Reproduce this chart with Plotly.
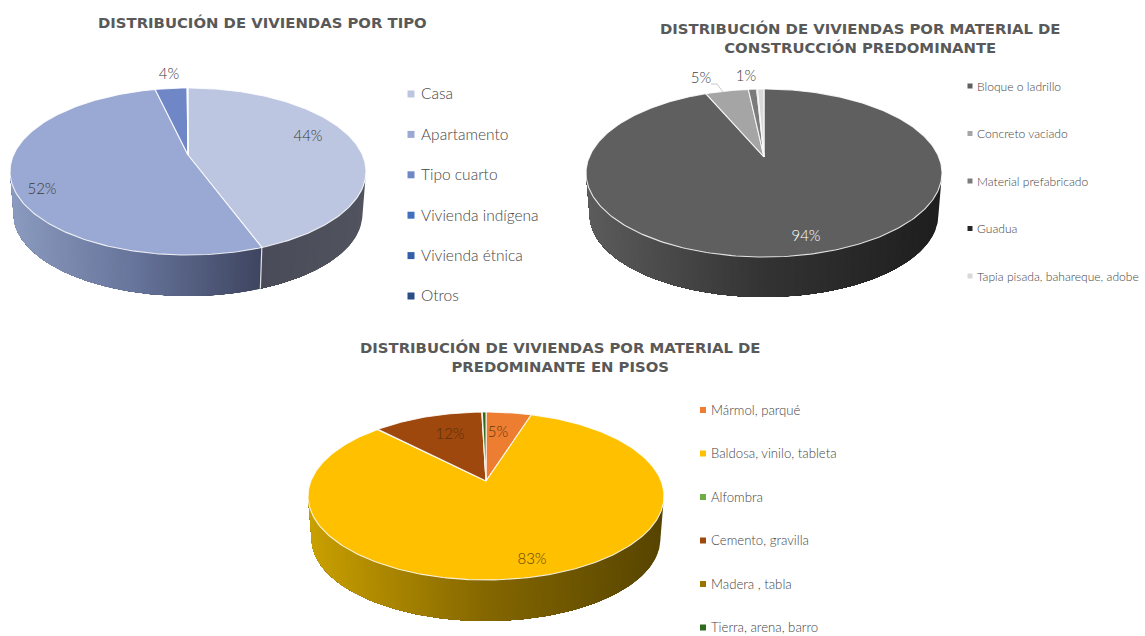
import math
import plotly.graph_objects as go

# ---------- data ----------
tipo_labels = ["Casa", "Apartamento", "Tipo cuarto", "Vivienda indígena", "Vivienda étnica", "Otros"]
tipo_values = [44.4, 52.0, 3.5, 0.05, 0.03, 0.02]
tipo_colors = ["#bcc6e1", "#9aa9d3", "#6f87c7", "#3f6fbd", "#335fa8", "#2b4c86"]
tipo_text = ["44%", "52%", "4%"]

mat_labels = ["Bloque o ladrillo", "Concreto vaciado", "Material prefabricado", "Guadua", "Tapia pisada, bahareque, adobe"]
mat_values = [93.6, 4.7, 0.9, 0.1, 0.7]
mat_colors = ["#5f5f5f", "#a5a5a5", "#7b7b7b", "#262626", "#d9d9d9"]
mat_text = ["94%", "5%", "1%"]

piso_labels = ["Mármol, parqué", "Baldosa, vinilo, tableta", "Alfombra", "Cemento, gravilla", "Madera , tabla", "Tierra, arena, barro"]
piso_values = [4.9, 82.8, 0.05, 11.8, 0.05, 0.4]
piso_colors = ["#ed7d31", "#ffc000", "#70ad47", "#9e480e", "#997300", "#2f6b1f"]
piso_text = ["5%", "83%", "12%"]

titles = ["DISTRIBUCIÓN DE VIVIENDAS POR TIPO",
          "DISTRIBUCIÓN DE VIVIENDAS POR MATERIAL DE<br>CONSTRUCCIÓN PREDOMINANTE",
          "DISTRIBUCIÓN DE VIVIENDAS POR MATERIAL DE<br>PREDOMINANTE EN PISOS"]

# ---------- style / layout ----------
W, H = 1145, 636
BODY = "Lato"
HEAD = "DejaVu Sans"
GREY = "#595959"
LEGEND_TEXT = "#454545"
TEXT_SHIFT = 1.5

charts = [
    dict(values=tipo_values, colors=tipo_colors, labels=tipo_labels, cx=188, apex=155, top=88, bottom=255, rx=178, floor=296,
         ramps={0: ["#494c58", "#51545f"], 1: ["#8b9abf", "#66739a", "#3e4560"]},
         legend=dict(mx=411, tx=421, y0=94, dy=40.4, size=15.5, ms=7, color=LEGEND_TEXT),
         text=[(tipo_text[0], 308, 136, "#3a3a3a"), (tipo_text[1], 42, 189, "#3a3a3a"), (tipo_text[2], 169, 74, "#3a3a3a")],
         tsize=15, title=(262, 23)),
    dict(values=mat_values, colors=mat_colors, labels=mat_labels, cx=764, apex=157, top=89, bottom=257, rx=178, floor=297,
         ramps={0: ["#5c5c5c", "#333333", "#1e1e1e"]},
         legend=dict(mx=970, tx=977, y0=86, dy=47.5, size=12.1, ms=5, color=LEGEND_TEXT),
         text=[(mat_text[0], 806, 236, "#ffffff"), (mat_text[1], 701, 78, "#404040"), (mat_text[2], 746, 76, "#404040")],
         tsize=15, title=(860, 38)),
    dict(values=piso_values, colors=piso_colors, labels=piso_labels, cx=486, apex=481, top=412, bottom=580, rx=178, floor=621,
         ramps={1: ["#c9a000", "#846700", "#574400"]},
         legend=dict(mx=703, tx=711, y0=410, dy=43.5, size=13.2, ms=6, color=LEGEND_TEXT),
         text=[(piso_text[0], 498, 432, "#5e3510"), (piso_text[1], 532, 559, "#5e4408"), (piso_text[2], 450, 434, "#5a2e0c")],
         tsize=15, title=(560, 357)),
]


def hex2rgb(c):
    return [int(c[i:i + 2], 16) for i in (1, 3, 5)]


def ramp(stops, f):
    f = min(max(f, 0), 1) * (len(stops) - 1)
    i = min(int(f), len(stops) - 2)
    a, b = hex2rgb(stops[i]), hex2rgb(stops[i + 1])
    t = f - i
    return "rgb(%d,%d,%d)" % tuple(round(a[j] + (b[j] - a[j]) * t) for j in range(3))


fig = go.Figure()


def poly(xs, ys, fill, line=None, lw=0):
    fig.add_trace(go.Scatter(x=xs, y=ys, mode="lines", fill="toself", fillcolor=fill,
                             line=dict(color=line or fill, width=lw), hoverinfo="skip", showlegend=False))


for c in charts:
    up, down = c["apex"] - c["top"], c["bottom"] - c["apex"]
    k = (down - up) / (down + up)
    A = down * (1 - k)
    B = c["rx"] * math.sqrt(1 - k * k)
    cy = c["apex"] + A * k / (1 - k * k)
    s = 0.98
    dy = c["floor"] - (cy + (c["bottom"] - cy) * s)

    def top(theta):
        u, v = math.sin(theta), -math.cos(theta)
        w = 1 - k * v
        return c["cx"] + B * u / w, c["apex"] + A * v / w

    def low(theta):
        x, y = top(theta)
        return c["cx"] + (x - c["cx"]) * s, cy + (y - cy) * s + dy

    total = sum(c["values"])
    edges = [0.0]
    for v in c["values"]:
        edges.append(edges[-1] + v / total * 2 * math.pi)
    vis0, vis1 = math.acos(-k), 2 * math.pi - math.acos(-k)

    # side wall: painted from the right, each piece reaching the slice's far end so no seams show
    for i in c["ramps"]:
        a0, a1 = max(edges[i], vis0), min(edges[i + 1], vis1)
        if a1 <= a0:
            continue
        x_hi, x_lo = top(a0)[0], top(a1)[0]
        n = max(2, int((x_hi - x_lo) / 3))
        # equal steps in x, so each band has the same width on screen
        bands = []
        fine = [a0 + (a1 - a0) * q / 600 for q in range(601)]
        for j in range(n):
            target = x_hi - (x_hi - x_lo) * j / n
            bands.append(min(fine, key=lambda t: abs(top(t)[0] - target)))
        for j in range(n):
            col = ramp(c["ramps"][i], 1 - (j + 0.5) / n)
            arc = [t for t in fine if t >= bands[j]]
            arc = arc[::4] + [arc[-1]]
            upper = [top(t) for t in arc]
            lower = [low(t) for t in reversed(arc)]
            p = upper + lower + [upper[0]]
            poly([q[0] for q in p], [q[1] for q in p], col)
        # seam on the wall between slices
        if vis0 < edges[i] < vis1:
            p, q = top(edges[i]), low(edges[i])
            fig.add_trace(go.Scatter(x=[p[0], q[0]], y=[p[1], q[1]], mode="lines",
                                     line=dict(color="rgba(255,255,255,0.85)", width=1.2),
                                     hoverinfo="skip", showlegend=False))

    # top surface
    for i, col in enumerate(c["colors"]):
        a0, a1 = edges[i], edges[i + 1]
        n = max(2, int((a1 - a0) / math.radians(1)))
        pts = [top(a0 + (a1 - a0) * j / n) for j in range(n + 1)]
        xs = [c["cx"]] + [q[0] for q in pts] + [c["cx"]]
        ys = [c["apex"]] + [q[1] for q in pts] + [c["apex"]]
        poly(xs, ys, col, "rgba(255,255,255,0.85)", 1.1)

    # data labels
    fig.add_trace(go.Scatter(x=[t[1] for t in c["text"]], y=[t[2] + TEXT_SHIFT for t in c["text"]], mode="text",
                             text=[t[0] for t in c["text"]],
                             textfont=dict(family=BODY, size=c["tsize"], color=[t[3] for t in c["text"]], weight=300),
                             textposition="middle center", hoverinfo="skip", showlegend=False))

    # legend
    lg = c["legend"]
    ys = [lg["y0"] + lg["dy"] * i for i in range(len(c["labels"]))]
    fig.add_trace(go.Scatter(x=[lg["mx"]] * len(ys), y=ys, mode="markers",
                             marker=dict(symbol="square", size=lg["ms"], color=c["colors"]),
                             hoverinfo="skip", showlegend=False))
    fig.add_trace(go.Scatter(x=[lg["tx"]] * len(ys), y=[v + TEXT_SHIFT for v in ys], mode="text", text=c["labels"],
                             textposition="middle right",
                             textfont=dict(family=BODY, size=lg["size"], color=lg["color"], weight=300),
                             hoverinfo="skip", showlegend=False))

# leader line of the 5 % label
fig.add_trace(go.Scatter(x=[711, 717, 723], y=[84, 84, 92], mode="lines",
                         line=dict(color="#c8c8c8", width=1), hoverinfo="skip", showlegend=False))

for c, t in zip(charts, titles):
    fig.add_annotation(x=c["title"][0], y=c["title"][1], xref="x", yref="y", text=t, showarrow=False,
                       font=dict(family=HEAD, size=14.85, color=GREY, weight="bold"), align="center", yanchor="middle")

fig.update_layout(width=W, height=H, margin=dict(l=0, r=0, t=0, b=0), paper_bgcolor="white", plot_bgcolor="white",
                  xaxis=dict(range=[0, W], visible=False, fixedrange=True),
                  yaxis=dict(range=[H, 0], visible=False, fixedrange=True), showlegend=False)
fig.write_html("out.html", config={"displayModeBar": False}, post_script="document.body.style.margin='0';")
